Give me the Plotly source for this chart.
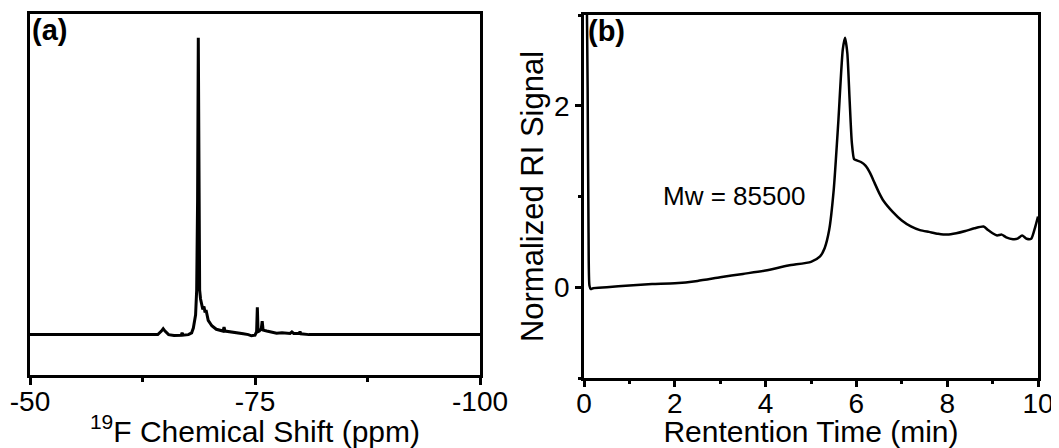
import plotly.graph_objects as go

# ---- Panel (a): 19F NMR spectrum ----
nmr_ppm = [-50.0, -60.0, -64.2, -64.6, -64.8, -65.0, -65.4, -66.0, -66.8, -66.9, -67.0,
           -67.6, -67.96, -68.15, -68.4, -68.52, -68.62, -68.7, -68.78, -68.85, -68.95,
           -69.07, -69.2, -69.33, -69.45, -69.56, -69.8, -70.2, -70.7, -71.45, -71.56,
           -71.67, -72.2, -73.0, -73.7, -74.26, -74.6, -75.0, -75.18, -75.26, -75.34,
           -75.48, -75.7, -75.8, -75.9, -76.3, -77.4, -78.0, -78.9, -79.1, -79.3,
           -79.9, -80.0, -80.1, -81.0, -100.0]
nmr_int = [0.0, 0.0, 0.0, 0.012, 0.02, 0.012, 0.0, -0.003, -0.002, 0.006, -0.002,
           0.0, 0.006, 0.022, 0.067, 0.15, 0.45, 1.0, 0.35, 0.15, 0.12,
           0.10, 0.085, 0.095, 0.075, 0.083, 0.048, 0.03, 0.018, 0.012, 0.025,
           0.012, 0.009, 0.005, 0.003, 0.0, -0.004, -0.002, 0.01, 0.092, 0.01,
           0.012, 0.02, 0.045, 0.015, 0.012, 0.005, 0.006, 0.004, 0.009, 0.004,
           0.004, 0.01, 0.003, 0.0, 0.0]

# ---- Panel (b): GPC trace ----
gpc_t = [0.06, 0.08, 0.1, 0.12, 0.15, 0.2, 0.5, 1.0, 1.5, 2.0, 2.5, 3.0, 3.5, 4.0, 4.5,
         5.0, 5.2, 5.3, 5.4, 5.5, 5.6, 5.7, 5.75, 5.8, 5.85, 5.9, 5.95, 6.0, 6.1, 6.2,
         6.3, 6.4, 6.5, 6.6, 6.8, 7.0, 7.2, 7.4, 7.6, 7.8, 8.0, 8.2, 8.4, 8.6, 8.8,
         8.9, 9.0, 9.1, 9.2, 9.3, 9.45, 9.55, 9.65, 9.75, 9.85, 9.93, 10.0]
gpc_sig = [3.3, 2.2, 0.6, 0.02, -0.02, -0.01, 0.0, 0.02, 0.035, 0.044, 0.07, 0.11, 0.147,
           0.184, 0.24, 0.28, 0.34, 0.43, 0.63, 1.07, 1.81, 2.62, 2.75, 2.58, 2.07, 1.59,
           1.41, 1.40, 1.38, 1.34, 1.26, 1.15, 1.04, 0.95, 0.83, 0.735, 0.67, 0.63, 0.61,
           0.59, 0.58, 0.595, 0.62, 0.65, 0.67, 0.63, 0.595, 0.57, 0.58, 0.55, 0.53,
           0.535, 0.57, 0.535, 0.535, 0.65, 0.78]

a_xticks = [-50, -75, -100]
a_xticktext = ["-50", "-75", "-100"]
b_xticks = [0, 2, 4, 6, 8, 10]
b_yticks = [0, 2]

# page is offset by the default 8px body margin; size the figure to fit the window
OFF = 8
W, H = 1059 - OFF, 448 - OFF


def dx(px):
    return (px - OFF) / W


def dy(py):
    return 1 - (py - OFF) / H


FONT = "Liberation Sans, Arial, sans-serif"
TICKF = dict(family=FONT, size=28, color="black")
TITLEF = dict(family=FONT, size=30, color="black")
LW = 2.5

fig = go.Figure()
fig.add_trace(go.Scatter(x=nmr_ppm, y=nmr_int, mode="lines",
                         line=dict(color="black", width=3), xaxis="x", yaxis="y",
                         showlegend=False))
fig.add_trace(go.Scatter(x=gpc_t, y=gpc_sig, mode="lines",
                         line=dict(color="black", width=2.5, shape="spline",
                                   smoothing=0.6),
                         xaxis="x2", yaxis="y2", showlegend=False))

common = dict(showline=True, linecolor="black", linewidth=LW, mirror=True,
              showgrid=False, zeroline=False, automargin=False)

fig.update_layout(
    width=W, height=H,
    margin=dict(l=0, r=0, t=0, b=0),
    paper_bgcolor="white", plot_bgcolor="white",
    xaxis=dict(domain=[dx(30), dx(480)], range=[-50, -100], anchor="y",
               tickmode="array", tickvals=a_xticks, ticktext=a_xticktext,
               ticks="outside", ticklen=7, tickwidth=LW, tickcolor="black",
               tickfont=TICKF, ticklabelstandoff=-7,
               minor=dict(tickvals=[-62.5, -87.5], ticks="outside", ticklen=4,
                          tickwidth=LW, tickcolor="black"),
               title=dict(text="<sup>19</sup>F Chemical Shift (ppm)", font=TITLEF,
                          standoff=3),
               **common),
    yaxis=dict(domain=[dy(375), dy(14)], range=[-0.136, 1.080], anchor="x",
               showticklabels=False, ticks="", **common),
    xaxis2=dict(domain=[dx(584), dx(1038)], range=[0, 10], anchor="y2",
                tickmode="array", tickvals=b_xticks,
                ticks="outside", ticklen=6, tickwidth=LW, tickcolor="black",
                tickfont=TICKF, ticklabelstandoff=-7,
                minor=dict(tickvals=[1, 3, 5, 7, 9], ticks="outside", ticklen=3,
                           tickwidth=LW, tickcolor="black"),
                title=dict(text="Rentention Time (min)", font=TITLEF, standoff=3),
                **common),
    yaxis2=dict(domain=[dy(378), dy(15)], range=[-1, 3], anchor="x2",
                tickmode="array", tickvals=b_yticks,
                ticks="outside", ticklen=6, tickwidth=LW, tickcolor="black",
                tickfont=TICKF,
                minor=dict(tickvals=[-1, 1, 3], ticks="outside", ticklen=3,
                           tickwidth=LW, tickcolor="black"),
                title=dict(text="Normalized RI Signal", font=dict(family=FONT, size=31,
                                                                  color="black"),
                           standoff=2),
                **common),
    annotations=[
        dict(text="<b>(a)</b>", xref="x domain", yref="y domain", x=0, y=1,
             xanchor="left", yanchor="top", showarrow=False,
             font=dict(family=FONT, size=29, color="black"), xshift=0, yshift=2),
        dict(text="<b>(b)</b>", xref="x2 domain", yref="y2 domain", x=0, y=1,
             xanchor="left", yanchor="top", showarrow=False,
             font=dict(family=FONT, size=29, color="black"), xshift=2, yshift=2),
        dict(text="Mw = 85500", xref="x2", yref="y2", x=3.3, y=1.0,
             xanchor="center", yanchor="middle", showarrow=False,
             font=dict(family=FONT, size=26, color="black")),
    ],
)

fig.write_html("out.html")
